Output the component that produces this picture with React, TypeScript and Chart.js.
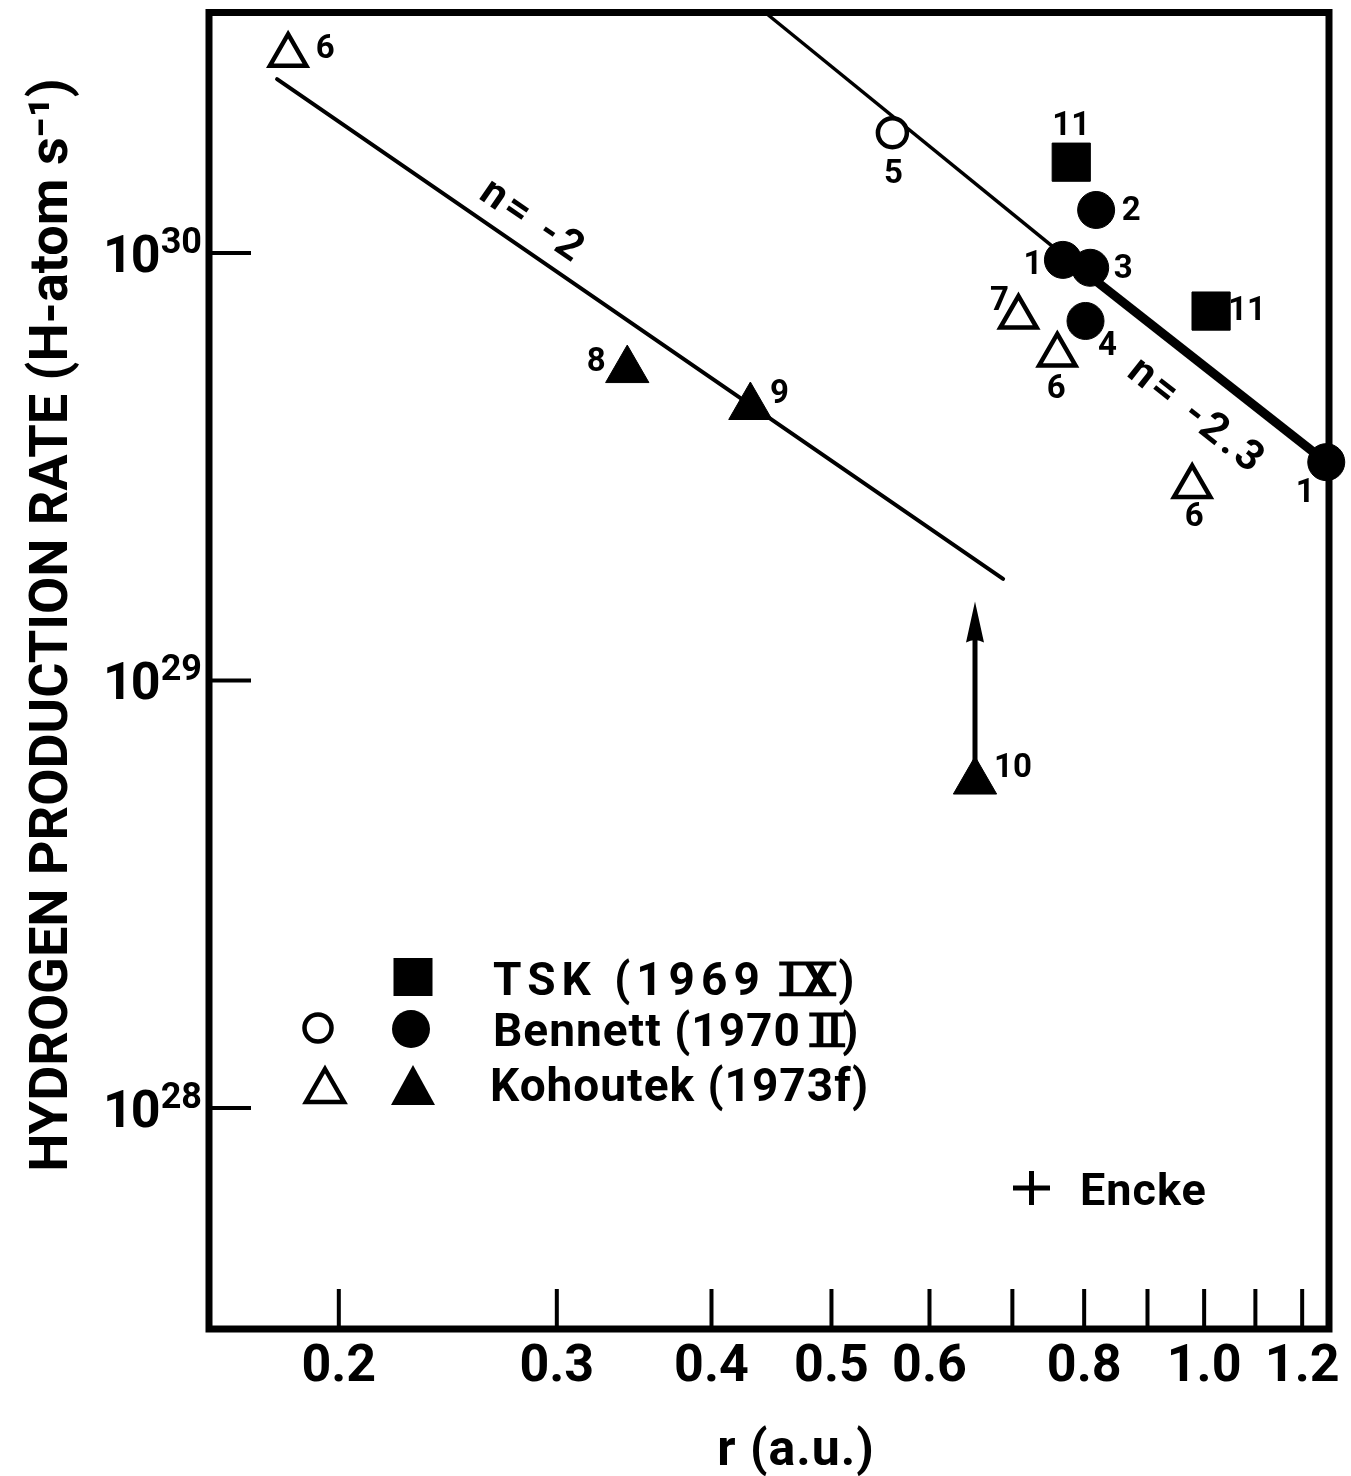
import React, { useEffect, useRef } from 'react';
import { Chart, registerables } from 'chart.js';

Chart.register(...registerables);

const FONT = "Roboto, 'DejaVu Sans', sans-serif";

// ---- axes ----
const xTickValues = [0.2, 0.3, 0.4, 0.5, 0.6, 0.7, 0.8, 0.9, 1.0, 1.1, 1.2];
const xTickLabels = ['0.2', '0.3', '0.4', '0.5', '0.6', '', '0.8', '', '1.0', '', '1.2'];
const yTickValues = [1e28, 1e29, 1e30];
const yTickBase = ['10', '10', '10'];
const yTickExponents = ['28', '29', '30'];
const xRange = [0.1571, 1.2614];
const yRange = [3.04e27, 3.65e30];
const xTitle = 'r (a.u.)';
const yTitle = 'HYDROGEN PRODUCTION RATE (H-atom s⁻¹)';

// ---- TSK (1969 IX), filled squares ----
const tskR = [0.781, 1.013];
const tskQ = [1.63e30, 7.31e29];
const tskLabels = ['11', '11'];
const tskLabelOffsets = [[0, -39], [36, -3]];

// ---- Bennett (1970 II), open circle ----
const bennettOpenR = [0.56];
const bennettOpenQ = [1.91e30];
const bennettOpenLabels = ['5'];
const bennettOpenLabelOffsets = [[1, 39]];

// ---- Bennett (1970 II), filled circles ----
const bennettR = [0.818, 0.769, 0.809, 0.802, 1.255];
const bennettQ = [1.26e30, 9.63e29, 9.23e29, 6.93e29, 3.24e29];
const bennettLabels = ['2', '1', '3', '4', '1'];
const bennettLabelOffsets = [[35, -2], [-30, 2], [33, -1], [22, 22], [-21, 28]];

// ---- Kohoutek (1973f), open triangles ----
const kohoutekOpenR = [0.182, 0.708, 0.761, 0.978];
const kohoutekOpenQ = [2.9e30, 7.08e29, 5.77e29, 2.84e29];
const kohoutekOpenLabels = ['6', '7', '6', '6'];
const kohoutekOpenLabelOffsets = [[37, -9], [-19, -19], [-1, 31], [2, 28]];

// ---- Kohoutek (1973f), filled triangles ----
const kohoutekR = [0.342, 0.43, 0.653];
const kohoutekQ = [5.32e29, 4.36e29, 5.8e28];
const kohoutekLabels = ['8', '9', '10'];
const kohoutekLabelOffsets = [[-31, -11], [29, -16], [38, -16]];

// lower-limit arrow on point 10
const arrowR = [0.653];
const arrowFromQ = [5.8e28];
const arrowToQ = [1.53e29];

// ---- power-law fits ----
const fitN2R = [0.1783, 0.688];
const fitN2Q = [2.55e30, 1.728e29];
const fitN23ThinR = [0.442, 0.769];
const fitN23ThinQ = [3.65e30, 9.89e29];
const fitN23ThickR = [0.769, 1.255];
const fitN23ThickQ = [9.89e29, 3.24e29];
const fitLabelTexts = ['n= -2', 'n= -2.3'];
const fitLabelR = [0.288, 0.99];
const fitLabelQ = [1.2e30, 4.2e29];

// ---- legend ----
const legendTexts = ['TSK (1969 IX)', 'Bennett (1970 II)', 'Kohoutek (1973f)'];
const legendRomans = ['IX', 'II', ''];
const enckeText = 'Encke';

const pts = (rs: number[], qs: number[]) => rs.map((r, i) => ({ x: r, y: qs[i] }));

function pointDs(label: string, rs: number[], qs: number[], style: string, radius: number, fill: string, bw: number) {
  return {
    label,
    data: pts(rs, qs),
    showLine: false,
    pointStyle: style,
    pointRadius: radius,
    pointHoverRadius: radius,
    pointBackgroundColor: fill,
    pointBorderColor: '#000',
    pointBorderWidth: bw,
    clip: false,
  };
}

function lineDs(label: string, rs: number[], qs: number[], width: number, cap: string) {
  return {
    label,
    data: pts(rs, qs),
    showLine: true,
    pointRadius: 0,
    pointHoverRadius: 0,
    borderColor: '#000',
    borderWidth: width,
    borderCapStyle: cap,
    fill: false,
    tension: 0,
    clip: false,
  };
}

function setFont(ctx: CanvasRenderingContext2D, size: number, spacing = 0) {
  ctx.font = `bold ${size}px ${FONT}`;
  (ctx as any).letterSpacing = `${spacing}px`;
}

function capText(ctx: CanvasRenderingContext2D, s: string, cx: number, cy: number, size: number, align: CanvasTextAlign = 'center', spacing = 0) {
  setFont(ctx, size, spacing);
  ctx.textAlign = align;
  ctx.textBaseline = 'alphabetic';
  ctx.fillText(s, cx, cy + 0.355 * size);
  (ctx as any).letterSpacing = '0px';
}

const overlay = {
  id: 'overlay',
  afterDraw(chart: any) {
    const { ctx, chartArea: a } = chart;
    const xs = chart.scales.x;
    const ys = chart.scales.y;
    const X = (v: number) => xs.getPixelForValue(v);
    const Y = (v: number) => ys.getPixelForValue(v);
    ctx.save();
    ctx.fillStyle = '#000';
    ctx.strokeStyle = '#000';

    // frame
    ctx.lineWidth = 7;
    ctx.lineJoin = 'miter';
    ctx.strokeRect(a.left, a.top, a.right - a.left, a.bottom - a.top);

    // inward ticks
    ctx.lineWidth = 4;
    ctx.lineCap = 'butt';
    ctx.beginPath();
    for (const v of xTickValues) {
      const px = X(v);
      ctx.moveTo(px, a.bottom);
      ctx.lineTo(px, a.bottom - 40);
    }
    for (const v of yTickValues) {
      const py = Y(v);
      ctx.moveTo(a.left, py);
      ctx.lineTo(a.left + 42, py);
    }
    ctx.stroke();

    // y tick labels: 10 with superscript exponent
    yTickValues.forEach((v, i) => {
      const py = Y(v);
      ctx.textBaseline = 'alphabetic';
      ctx.textAlign = 'right';
      setFont(ctx, 36);
      const right = a.left - 7;
      ctx.fillText(yTickExponents[i], right, py);
      const ew = ctx.measureText(yTickExponents[i]).width;
      setFont(ctx, 52, -2);
      ctx.fillText(yTickBase[i], right - ew - 2, py + 19);
      (ctx as any).letterSpacing = '0px';
    });

    // point number labels
    const groups: [number[], number[], string[], number[][]][] = [
      [tskR, tskQ, tskLabels, tskLabelOffsets],
      [bennettOpenR, bennettOpenQ, bennettOpenLabels, bennettOpenLabelOffsets],
      [bennettR, bennettQ, bennettLabels, bennettLabelOffsets],
      [kohoutekOpenR, kohoutekOpenQ, kohoutekOpenLabels, kohoutekOpenLabelOffsets],
      [kohoutekR, kohoutekQ, kohoutekLabels, kohoutekLabelOffsets],
    ];
    for (const [rs, qs, labs, offs] of groups) {
      rs.forEach((r, i) => {
        capText(ctx, labs[i], X(r) + offs[i][0], Y(qs[i]) + offs[i][1], 33);
      });
    }

    // lower-limit arrow
    arrowR.forEach((r, i) => {
      const px = X(r);
      const y0 = Y(arrowFromQ[i]);
      const tip = Y(arrowToQ[i]);
      const headLen = 41;
      ctx.lineWidth = 5;
      ctx.beginPath();
      ctx.moveTo(px, y0);
      ctx.lineTo(px, tip + headLen - 4);
      ctx.stroke();
      ctx.beginPath();
      ctx.moveTo(px, tip);
      ctx.lineTo(px + 9, tip + headLen);
      ctx.quadraticCurveTo(px, tip + headLen - 5, px - 9, tip + headLen);
      ctx.closePath();
      ctx.fill();
    });

    // fit labels, rotated along their lines
    const fitLines = [[fitN2R, fitN2Q], [fitN23ThickR, fitN23ThickQ]];
    fitLabelTexts.forEach((t, i) => {
      const [lr, lq] = fitLines[i];
      const ang = Math.atan2(Y(lq[1]) - Y(lq[0]), X(lr[1]) - X(lr[0]));
      ctx.save();
      ctx.translate(X(fitLabelR[i]), Y(fitLabelQ[i]));
      ctx.rotate(ang);
      capText(ctx, t, 0, 0, 42, 'center', 4);
      ctx.restore();
    });

    // legend markers
    ctx.fillRect(393.5, 958, 39, 38);
    ctx.lineWidth = 4.5;
    ctx.beginPath();
    ctx.arc(318, 1028, 13.5, 0, Math.PI * 2);
    ctx.stroke();
    ctx.beginPath();
    ctx.arc(411, 1029, 19, 0, Math.PI * 2);
    ctx.fill();
    ctx.beginPath();
    ctx.moveTo(325, 1069);
    ctx.lineTo(344, 1102);
    ctx.lineTo(306, 1102);
    ctx.closePath();
    ctx.stroke();
    ctx.beginPath();
    ctx.moveTo(413, 1065);
    ctx.lineTo(435, 1105);
    ctx.lineTo(391, 1105);
    ctx.closePath();
    ctx.fill();
    const rows = [[493, 979, 6], [493, 1030, 1], [490, 1085, 1]];
    legendTexts.forEach((t, i) => {
      const [lx, ly, sp] = rows[i];
      const size = 46;
      capText(ctx, t, lx, ly, size, 'left', sp);
      const rom = legendRomans[i];
      if (rom) {
        setFont(ctx, size, sp);
        const idx = t.lastIndexOf(rom);
        const x0 = lx + ctx.measureText(t.slice(0, idx)).width;
        const w = ctx.measureText(rom).width - sp;
        (ctx as any).letterSpacing = '0px';
        const capH = 0.711 * size;
        const base = ly + 0.355 * size;
        ctx.lineWidth = 4;
        ctx.beginPath();
        ctx.moveTo(x0 - 4, base - capH + 1);
        ctx.lineTo(x0 + w + 4, base - capH + 1);
        ctx.moveTo(x0 - 4, base - 1);
        ctx.lineTo(x0 + w + 4, base - 1);
        ctx.stroke();
      }
    });

    // Encke
    ctx.lineWidth = 5;
    ctx.beginPath();
    ctx.moveTo(1013, 1188);
    ctx.lineTo(1050, 1188);
    ctx.moveTo(1031.5, 1171);
    ctx.lineTo(1031.5, 1205);
    ctx.stroke();
    capText(ctx, enckeText, 1080, 1189, 45, 'left', 1);

    // axis titles
    capText(ctx, xTitle, 796, 1447, 50, 'center', 1);
    ctx.save();
    ctx.translate(48, 625);
    ctx.rotate(-Math.PI / 2);
    capText(ctx, yTitle, 0, 0, 54, 'center', 0);
    ctx.restore();

    ctx.restore();
  },
};

export default function App() {
  const ref = useRef<HTMLCanvasElement>(null);
  useEffect(() => {
    const canvas = ref.current;
    if (!canvas) return;
    const tickFontX = { family: FONT, size: 52, weight: 'bold' as const };
    const chart = new Chart(canvas, {
      type: 'scatter',
      data: {
        datasets: [
          pointDs('TSK (1969 IX)', tskR, tskQ, 'rect', 27, '#000', 1),
          pointDs('Bennett (1970 II) open', bennettOpenR, bennettOpenQ, 'circle', 14.5, '#fff', 4.5),
          pointDs('Bennett (1970 II)', bennettR, bennettQ, 'circle', 18.5, '#000', 1),
          pointDs('Kohoutek (1973f) open', kohoutekOpenR, kohoutekOpenQ, 'triangle', 21, '#fff', 4.5),
          pointDs('Kohoutek (1973f)', kohoutekR, kohoutekQ, 'triangle', 25, '#000', 1),
          lineDs('n = -2.3 (thick)', fitN23ThickR, fitN23ThickQ, 9, 'butt'),
          lineDs('n = -2.3', fitN23ThinR, fitN23ThinQ, 3.5, 'butt'),
          lineDs('n = -2', fitN2R, fitN2Q, 4, 'round'),
        ] as any,
      },
      options: {
        animation: false,
        responsive: false,
        devicePixelRatio: 1,
        layout: { autoPadding: false, padding: { top: 12.5, right: 22, left: 0, bottom: 0 } },
        plugins: { legend: { display: false }, tooltip: { enabled: false }, title: { display: false } },
        events: [],
        scales: {
          x: {
            type: 'logarithmic',
            position: 'bottom',
            min: xRange[0],
            max: xRange[1],
            grid: { display: false, drawTicks: false },
            border: { display: false },
            ticks: {
              autoSkip: false,
              maxRotation: 0,
              minRotation: 0,
              padding: 8,
              color: '#000',
              font: tickFontX,
              callback: (_v: any, i: number) => xTickLabels[i],
            },
            afterBuildTicks: (s: any) => {
              s.ticks = xTickValues.map((v) => ({ value: v }));
            },
            afterFit: (s: any) => {
              s.height = 147;
              s.paddingLeft = 0;
              s.paddingRight = 0;
            },
          },
          y: {
            type: 'logarithmic',
            position: 'left',
            min: yRange[0],
            max: yRange[1],
            grid: { display: false, drawTicks: false },
            border: { display: false },
            ticks: { display: false },
            afterBuildTicks: (s: any) => {
              s.ticks = yTickValues.map((v) => ({ value: v }));
            },
            afterFit: (s: any) => {
              s.width = 209;
              s.paddingTop = 0;
              s.paddingBottom = 0;
            },
          },
        },
      } as any,
      plugins: [overlay],
    });
    return () => chart.destroy();
  }, []);
  return (
    <div style={{ position: 'absolute', left: 0, top: 0, width: 1351, height: 1476, background: '#fff' }}>
      <canvas ref={ref} width={1351} height={1476} style={{ display: 'block', width: 1351, height: 1476 }} />
    </div>
  );
}
